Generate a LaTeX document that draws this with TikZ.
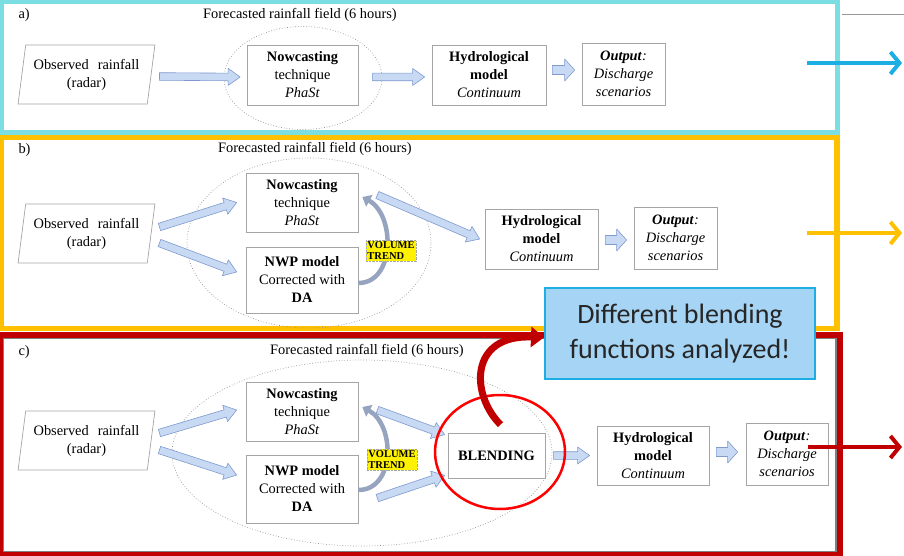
\documentclass[tikz,border=0pt]{standalone}
\usepackage{fontspec}
\setmainfont{Liberation Serif}
\newfontfamily\notefont{Carlito}
\usetikzlibrary{positioning,arrows.meta,calc,shapes.geometric}

\definecolor{framea}{RGB}{122,222,226}
\definecolor{frameb}{RGB}{255,192,0}
\definecolor{framec}{RGB}{192,0,0}
\definecolor{exita}{RGB}{29,174,227}
\definecolor{flowfill}{RGB}{199,217,243}
\definecolor{flowline}{RGB}{126,154,206}
\definecolor{trendgray}{RGB}{150,164,192}
\definecolor{boxline}{RGB}{165,165,165}
\definecolor{notefill}{RGB}{166,212,244}

\newcommand{\obstext}{Observed\hspace{9pt}rainfall\\(radar)}
\newcommand{\nowtext}{\textbf{Nowcasting}\\technique\\\textit{PhaSt}}
\newcommand{\nwptext}{\textbf{NWP model}\\Corrected with\\\textbf{DA}}
\newcommand{\hydtext}{\textbf{Hydrological}\\\textbf{model}\\\textit{Continuum}}
\newcommand{\outtext}{\textbf{\textit{Output}}\textit{:}\\\textit{Discharge}\\\textit{scenarios}}
\newcommand{\fieldtext}{Forecasted rainfall field (6 hours)}

\tikzset{
  flow w/.store in=\flowW, flow h/.store in=\flowH, flow neck/.store in=\flowN,
  flow w=3.8pt, flow h=8.5pt, flow neck=12pt,
  flow/.style={fill=flowfill, draw=flowline, line width=.6pt, line join=round,
    to path={($(\tikztostart)!\flowW!90:(\tikztotarget)$)
      -- ($(\tikztotarget)!\flowN!(\tikztostart)!\flowW!90:(\tikztotarget)$)
      -- ($(\tikztotarget)!\flowN!(\tikztostart)!\flowH!90:(\tikztotarget)$)
      -- (\tikztotarget)
      -- ($(\tikztotarget)!\flowN!(\tikztostart)!\flowH!-90:(\tikztotarget)$)
      -- ($(\tikztotarget)!\flowN!(\tikztostart)!\flowW!-90:(\tikztotarget)$)
      -- ($(\tikztostart)!\flowW!-90:(\tikztotarget)$) -- cycle}},
  flow small/.style={flow, flow w=4.5pt, flow h=11pt, flow neck=10pt}
}

\begin{document}
\begin{tikzpicture}[x=1pt,y=-1pt,
  txt/.style={font=\fontsize{14.4}{18}\selectfont},
  stepbox/.style={draw=boxline, line width=.7pt, fill=white, align=center, inner sep=1pt, txt},
  obs/.style={trapezium, trapezium left angle=78, trapezium right angle=102, trapezium stretches=true,
    draw=boxline, line width=.7pt, fill=white, minimum width=137, minimum height=59, align=center, inner sep=0pt, txt},
  field/.style={ellipse, draw=gray!85, dotted, line width=.7pt, inner sep=0pt},
  trendtag/.style={fill=yellow, draw=gray!70, densely dotted, line width=.4pt, align=left, inner sep=1.5pt,
    font=\fontsize{10.5}{11}\selectfont\bfseries},
  trend/.style={draw=trendgray, line width=4.5pt, -{Triangle[length=8pt,width=13pt]}},
  outlet/.style={line width=4pt, -{Straight Barb[length=9pt,width=22pt]}},
  panel/.style={line width=5pt}]
\useasboundingbox (0,0) rectangle (904,556);
\draw[panel, framea] (1.5,2) rectangle (837,132.5);
\draw[panel, frameb, line width=5.5pt] (1.5,137.5) rectangle (837,328.5);
\draw[gray, line width=1.2pt] (3,338) rectangle (836,551.5);
\draw[panel, framec, line width=6pt] (0,335) rectangle (840,555);
\draw[gray!80, line width=.8pt] (842,14) -- (904,14);

% a)
\node[txt, anchor=west] (labA) at (15,15) {a)};
\node[txt] (titleA) at (300,15) {\fieldtext};
\node[field, minimum width=158, minimum height=103] (fieldA) at (303,78) {};
\node[obs] (obsA) at (86.5,74.5) {\obstext};
\node[stepbox, minimum width=111, minimum height=60] (nowA) at (302.5,75) {\nowtext};
\node[stepbox, minimum width=114, minimum height=60] (hydA) at (489,75) {\hydtext};
\node[stepbox, minimum width=83, minimum height=62] (outA) at (623.5,74) {\outtext};
\draw[flow] ([xshift=8,yshift=-2]obsA.east) to ([xshift=-6.5,yshift=-2]nowA.west);
\draw[flow] ([xshift=14,yshift=-2]nowA.east) to ([xshift=-7,yshift=-2]hydA.west);
\draw[flow small] ([xshift=6,yshift=5]hydA.east) to ([xshift=-7,yshift=4]outA.west);

% b)
\node[txt, anchor=west] (labB) at (15,150) {b)};
\node[txt] (titleB) at (315,149) {\fieldtext};
\node[field, minimum width=244, minimum height=170] (fieldB) at (309,243) {};
\node[obs] (obsB) at (86.5,233.5) {\obstext};
\node[stepbox, minimum width=112, minimum height=59] (nowB) at (302,202.5) {\nowtext};
\node[stepbox, minimum width=112, minimum height=66] (nwpB) at (302,280) {\nwptext};
\node[stepbox, minimum width=113, minimum height=60] (hydB) at (541.5,239) {\hydtext};
\node[stepbox, minimum width=83, minimum height=62] (outB) at (675.5,238) {\outtext};
\draw[flow] ([xshift=8,yshift=6.5]obsB.east) to ([xshift=-9]nowB.west);
\draw[flow] ([xshift=8,yshift=-9.5]obsB.east) to ([xshift=-9,yshift=8]nwpB.west);
\draw[flow] ([xshift=19,yshift=7.5]nowB.east) to ([xshift=-5]hydB.west);
\draw[flow small] ([xshift=7,yshift=-1]hydB.east) to ([xshift=-7,yshift=-2]outB.west);
\draw[trend] ([yshift=-3]nwpB.east) .. controls +(37,0) and +(33,18) .. ([xshift=4,yshift=5.5]nowB.east);
\node[trendtag] (volB) at (391,251) {VOLUME\\TREND};

% c)
\node[txt, anchor=west] (labC) at (15,352) {c)};
\node[txt] (titleC) at (367,351) {\fieldtext};
\node[field, minimum width=380, minimum height=186] (fieldC) at (362,453) {};
\node[obs] (obsC) at (86.5,440.5) {\obstext};
\node[stepbox, minimum width=112, minimum height=59] (nowC) at (302,411.5) {\nowtext};
\node[stepbox, minimum width=112, minimum height=68] (nwpC) at (302,489) {\nwptext};
\node[stepbox, minimum width=97, minimum height=45, font=\fontsize{14.4}{18}\selectfont\bfseries] (blend) at (496.5,455.5) {BLENDING};
\node[stepbox, minimum width=112, minimum height=59] (hydC) at (653,455.5) {\hydtext};
\node[stepbox, minimum width=82, minimum height=62] (outC) at (787,454) {\outtext};
\draw[flow] ([xshift=8,yshift=7.5]obsC.east) to ([xshift=-9,yshift=1.5]nowC.west);
\draw[flow] ([xshift=8,yshift=-9.5]obsC.east) to ([xshift=-9,yshift=14]nwpC.west);
\draw[flow] ([xshift=19,yshift=1.5]nowC.east) to ([xshift=-3,yshift=-2]blend.north west);
\draw[flow] ([xshift=19,yshift=-9]nwpC.east) to ([xshift=-3,yshift=3]blend.south west);
\draw[flow] ([xshift=8]blend.east) to ([xshift=-7]hydC.west);
\draw[flow small] ([xshift=7,yshift=3.5]hydC.east) to ([xshift=-8,yshift=2]outC.west);
\draw[trend] ([yshift=-1]nwpC.east) .. controls +(37,0) and +(33,18) .. ([xshift=4,yshift=4.5]nowC.east);
\node[trendtag] (volC) at (392,459.5) {VOLUME\\TREND};
\node[ellipse, draw=red, line width=2.5pt, minimum width=130, minimum height=114] (ring) at (500,452) {};

\node[draw=exita, line width=2pt, fill=notefill, minimum width=270, minimum height=91, align=center,
  text=black!85, font=\notefont\fontsize{28}{35}\selectfont] (note) at (680,333.5) {Different blending\\functions analyzed!};
\draw[framec, line width=7pt, -{Triangle[length=13pt,width=20pt]}] ([xshift=4,yshift=8]blend.north)
  .. controls +(-30,-30) and +(-75,-3) .. ([yshift=-4]note.west);

\coordinate (exitA) at (807,63);
\coordinate (endA) at (902,63);
\coordinate (exitB) at (807,233);
\coordinate (endB) at (902,233);
\coordinate (exitC) at (808,447);
\coordinate (endC) at (902,447);
\draw[outlet, exita] (exitA) -- (endA);
\draw[outlet, frameb] (exitB) -- (endB);
\draw[outlet, framec] (exitC) -- (endC);
\end{tikzpicture}
\end{document}
